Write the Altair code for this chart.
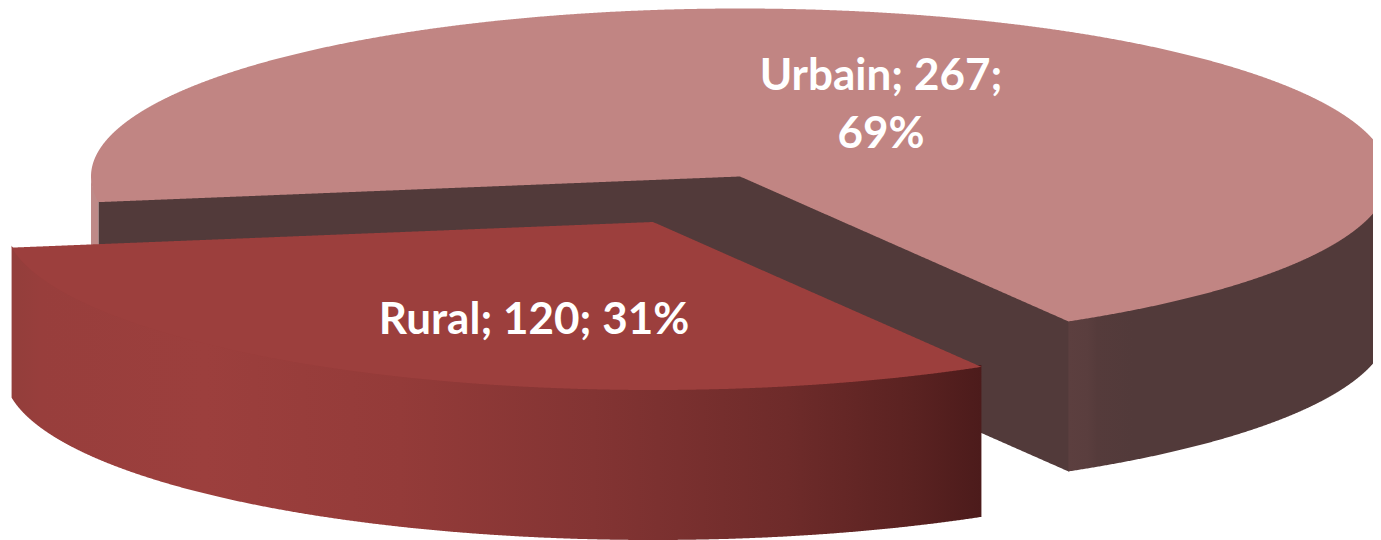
import numpy as np
import pandas as pd
import altair as alt

categories = ["Urbain", "Rural"]
values = [267, 120]
label_lines = [["Urbain; 267;", "69%"], ["Rural; 120; 31%"]]

A, B, DEPTH = 649.0, 168.0, 150.0
CX_U, CY_U = 740.0, 176.5
CX_R, CY_R = 653.0, 222.0
START = 59.6
W, H = 1365, 532
X_DOM, Y_DOM = [8, 1373], [540, 8]
SEAM = 2.0

total = sum(values)
sweep_r = values[1] / total * 360
rural_a0, rural_a1 = START, START + sweep_r
cos0, sin0 = np.cos(np.radians(START)), np.sin(np.radians(START))
cos1, sin1 = np.cos(np.radians(rural_a1)), np.sin(np.radians(rural_a1))


def half(x, cx):
    return B * np.sqrt(np.clip(1 - ((x - cx) / A) ** 2, 0, 1))


def grid(cx, xmin, xmax, extra=()):
    xs = cx + A * np.cos(np.linspace(0, np.pi, 1441))
    xs = xs[(xs >= xmin) & (xs <= xmax)]
    return np.unique(np.concatenate([xs, [xmin, xmax], list(extra)]))


def area(x, y, y2, color):
    df = pd.DataFrame({"x": x, "y": y, "y2": y2})
    return alt.Chart(df).mark_area(color=color, clip=True, strokeWidth=0).encode(
        x=alt.X("x:Q", scale=alt.Scale(domain=X_DOM, nice=False, zero=False), axis=None),
        y=alt.Y("y:Q", scale=alt.Scale(domain=Y_DOM, nice=False, zero=False), axis=None),
        y2="y2:Q",
    )


def grad(stops):
    return alt.Gradient(
        gradient="linear", x1=0, x2=1, y1=0, y2=0,
        stops=[alt.GradientStop(offset=o, color=c) for o, c in stops],
    )


# Urbain
ur_rx, ur_ry = CX_U + A * cos0, CY_U + B * sin0
ul_rx, ul_ry = CX_U + A * cos1, CY_U + B * sin1
x_all = grid(CX_U, CX_U - A, CX_U + A, [ul_rx, ur_rx, CX_U])


def u_lower(x):
    out = np.where(
        x <= CX_U,
        CY_U + (x - CX_U) / (ul_rx - CX_U) * (ul_ry - CY_U),
        CY_U + (x - CX_U) / (ur_rx - CX_U) * (ur_ry - CY_U),
    )
    arc = CY_U + half(x, CX_U)
    return np.where((x < ul_rx) | (x > ur_rx), arc, out)


u_top = area(x_all, CY_U - half(x_all, CX_U), u_lower(x_all), "#c18583")

x_cut = grid(CX_U, ul_rx, ur_rx + 1.0, [CX_U, ur_rx])
u_cut = area(x_cut, u_lower(x_cut) - SEAM, u_lower(x_cut) + DEPTH, "#523a3a")

x_sl = grid(CX_U, CX_U - A, ul_rx)
u_sliver = area(x_sl, CY_U + half(x_sl, CX_U) - SEAM, CY_U + half(x_sl, CX_U) + DEPTH, "#bf8a88")

x_rw = grid(CX_U, ur_rx, CX_U + A)
u_wall = area(
    x_rw, CY_U + half(x_rw, CX_U) - SEAM, CY_U + half(x_rw, CX_U) + DEPTH,
    grad([(0, "#5c3f3f"), (0.06, "#5a3e3e"), (0.09, "#553b3b"), (0.2, "#523a3a"), (1, "#523a3a")]),
)

# Rural
rr_x, rr_y = CX_R + A * cos0, CY_R + B * sin0
rl_x, rl_y = CX_R + A * cos1, CY_R + B * sin1
x_r = grid(CX_R, rl_x, rr_x, [CX_R])
r_upper = np.where(
    x_r <= CX_R,
    CY_R + (x_r - CX_R) / (rl_x - CX_R) * (rl_y - CY_R),
    CY_R + (x_r - CX_R) / (rr_x - CX_R) * (rr_y - CY_R),
)
r_lower = CY_R + half(x_r, CX_R)
r_wall = area(
    x_r, r_lower - SEAM, r_lower + DEPTH,
    grad([(0, "#933e3b"), (0.03, "#983e3c"), (0.2, "#9c3f3d"), (0.4, "#943b39"),
          (0.6, "#833433"), (0.8, "#6e2b2a"), (0.93, "#5a2221"), (1, "#4c1b1b")]),
)
r_top = area(x_r, r_upper, r_lower, "#9c3f3d")

# Labels
lab = pd.DataFrame({
    "t": label_lines[0] + label_lines[1],
    "x": [881, 881, 534],
    "y": [77, 135, 321],
})
text = alt.Chart(lab).mark_text(
    font="Lato", fontWeight="bold", fontSize=44, color="white", align="center", baseline="middle"
).encode(
    x=alt.X("x:Q", scale=alt.Scale(domain=X_DOM, nice=False, zero=False), axis=None),
    y=alt.Y("y:Q", scale=alt.Scale(domain=Y_DOM, nice=False, zero=False), axis=None),
    text="t:N",
)

chart = (
    alt.layer(u_sliver, u_cut, u_wall, u_top, r_wall, r_top, text)
    .properties(width=W, height=H, padding=0, background="white")
    .configure_view(stroke=None)
)
chart.save("out.html", embed_options={"renderer": "svg", "actions": False})
